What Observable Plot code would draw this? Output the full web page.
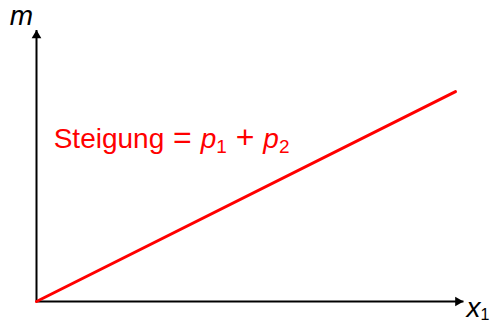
<!DOCTYPE html>
<html>
<head>
<meta charset="utf-8">
<script src="https://cdn.jsdelivr.net/npm/d3@7"></script>
<script src="https://cdn.jsdelivr.net/npm/@observablehq/plot@0.6"></script>
<style>
  html, body { margin: 0; padding: 0; background: #fff; }
  svg { display: block; }
</style>
</head>
<body>
<div id="chart"></div>
<script>
// Data
const lineX = [0, 10];
const lineM = [0, 7.73];
const xAxisEnd = 10.19;
const yAxisEnd = 10;
const slopeLabel = "Steigung = p1 + p2";
const yLabel = "m";
const xLabel = "x1";

const lineData = lineX.map((x, i) => ({x, m: lineM[i]}));

const font = "Liberation Sans, Arial, Helvetica, sans-serif";

const chart = Plot.plot({
  width: 492,
  height: 324,
  marginLeft: 36,
  marginRight: 37,
  marginTop: 29.5,
  marginBottom: 23,
  x: {domain: [0, 10], axis: null},
  y: {domain: [0, 10], axis: null},
  style: {fontFamily: font, background: "#fff"},
  marks: [
    // axes
    Plot.link([{x1: 0, y1: 0, x2: xAxisEnd, y2: 0}], {x1: "x1", y1: "y1", x2: "x2", y2: "y2", stroke: "black", strokeWidth: 2}),
    Plot.link([{x1: 0, y1: 0, x2: 0, y2: yAxisEnd}], {x1: "x1", y1: "y1", x2: "x2", y2: "y2", stroke: "black", strokeWidth: 2}),
    Plot.dot([{x: xAxisEnd, y: 0}], {x: "x", y: "y", symbol: "triangle", r: 3.6, fill: "black", stroke: "none", rotate: 90, dx: -5.5}),
    Plot.dot([{x: 0, y: yAxisEnd}], {x: "x", y: "y", symbol: "triangle", r: 3.6, fill: "black", stroke: "none", dy: 5.5}),
    // red line
    Plot.line(lineData, {x: "x", y: "m", stroke: "#ff0000", strokeWidth: 3}),
    // labels
    Plot.text([slopeLabel], {x: 0.41, y: 5.64, text: d => d, textAnchor: "start", lineAnchor: "bottom", fill: "#ff0000", fontSize: 28}),
    Plot.text([yLabel], {x: -0.36, y: 10.2, text: d => d, textAnchor: "middle", lineAnchor: "bottom", fill: "black", fontSize: 28, fontStyle: "italic"}),
    Plot.text([xLabel], {x: 10.26, y: -0.56, text: d => d, textAnchor: "start", lineAnchor: "bottom", fill: "black", fontSize: 28})
  ]
});

document.getElementById("chart").append(chart);

// Rich formatting of labels (italic variables, subscripts)
function richen(str, parts) {
  chart.querySelectorAll("text").forEach(t => {
    if (t.textContent === str) {
      t.textContent = "";
      const ns = "http://www.w3.org/2000/svg";
      parts.forEach(p => {
        const ts = document.createElementNS(ns, "tspan");
        ts.textContent = p.t;
        if (p.i) ts.setAttribute("font-style", "italic");
        if (p.s) ts.setAttribute("font-size", p.s);
        if (p.dy) ts.setAttribute("dy", p.dy);
        if (p.dx) ts.setAttribute("dx", p.dx);
        t.appendChild(ts);
      });
    }
  });
}
richen(slopeLabel, [
  {t: "Steigung"},
  {t: " = ", s: 32, dy: 0},
  {t: "p", i: true},
  {t: "1", s: 19, dy: 5},
  {t: " + ", s: 32, dy: -5},
  {t: "p", i: true},
  {t: "2", s: 19, dy: 5}
]);
richen(xLabel, [
  {t: "x", i: true},
  {t: "1", s: 16, dy: 3}
]);
</script>
</body>
</html>
